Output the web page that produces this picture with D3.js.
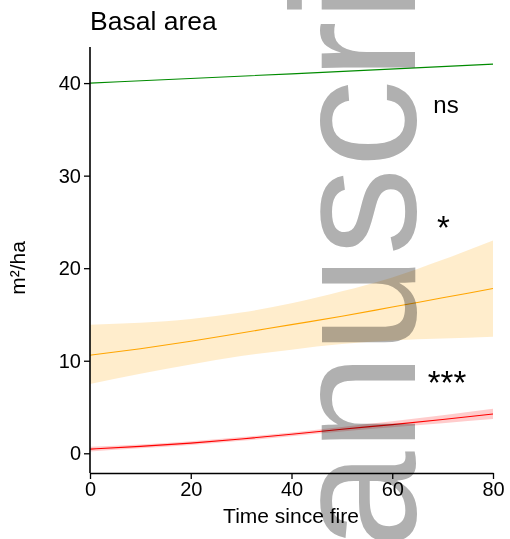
<!DOCTYPE html>
<html>
<head>
<meta charset="utf-8">
<script src="https://cdn.jsdelivr.net/npm/d3@7"></script>
<style>
  html, body { margin: 0; padding: 0; background: #fff; }
  svg { display: block; font-family: "Liberation Sans", Arial, sans-serif; }
</style>
</head>
<body>
<svg id="chart" width="510" height="539"></svg>
<script>
// ---- data ----
const title = "Basal area";
const xLabel = "Time since fire";
const yLabel = "m²/ha";
const xTicks = [0, 20, 40, 60, 80];
const yTicks = [0, 10, 20, 30, 40];

const greenTimes = [0, 40, 80];
const greenFit   = [40.0, 41.0, 42.05];

const times      = [0, 10, 20, 30, 40, 50, 60, 70, 80];
const orangeFit  = [10.6, 11.3, 12.1, 13.0, 13.9, 14.8, 15.8, 16.8, 17.8];
const orangeUp   = [13.9, 14.1, 14.5, 15.2, 16.2, 17.5, 19.0, 20.9, 23.0];
const orangeLo   = [7.5, 8.6, 9.6, 10.5, 11.2, 11.8, 12.2, 12.4, 12.6];

const redFit     = [0.45, 0.75, 1.1, 1.55, 2.05, 2.6, 3.1, 3.65, 4.25];
const redUp      = [0.7, 0.95, 1.3, 1.75, 2.25, 2.85, 3.45, 4.1, 4.8];
const redLo      = [0.2, 0.55, 0.9, 1.35, 1.85, 2.35, 2.8, 3.25, 3.7];

const sigLabels  = ["ns", "*", "***"];

// ---- layout ----
const svg = d3.select("#chart");
const x = d3.scaleLinear().domain([0, 80]).range([90, 493]);
const y = d3.scaleLinear().domain([-2.13, 43.9]).range([473, 47]);

const line = (ts, vs) => d3.line().x((d, i) => x(ts[i])).y(d => y(d)).curve(d3.curveMonotoneX)(vs);
const area = (ts, lo, hi) => d3.area().x((d, i) => x(ts[i])).y0((d, i) => y(lo[i])).y1(d => y(d)).curve(d3.curveMonotoneX)(hi);

// bands
svg.append("path").attr("d", area(times, orangeLo, orangeUp)).attr("fill", "#ffa500").attr("fill-opacity", 0.2);
svg.append("path").attr("d", area(times, redLo, redUp)).attr("fill", "#ff0000").attr("fill-opacity", 0.2);

// fitted lines
svg.append("path").attr("d", line(greenTimes, greenFit)).attr("fill", "none").attr("stroke", "#008b00").attr("stroke-width", 1.1);
svg.append("path").attr("d", line(times, orangeFit)).attr("fill", "none").attr("stroke", "#ffa500").attr("stroke-width", 1.1);
svg.append("path").attr("d", line(times, redFit)).attr("fill", "none").attr("stroke", "#ff0000").attr("stroke-width", 1.1);

// axes
const xAxis = d3.axisBottom(x).tickValues(xTicks).tickSize(6).tickSizeOuter(0).tickPadding(3);
const yAxis = d3.axisLeft(y).tickValues(yTicks).tickSize(6).tickSizeOuter(0).tickPadding(3);

const gx = svg.append("g").attr("transform", "translate(0,473)").call(xAxis);
const gy = svg.append("g").attr("transform", "translate(90,0)").call(yAxis);
[gx, gy].forEach(g => {
  g.select(".domain").attr("stroke", "#000").attr("stroke-width", 1.6);
  g.selectAll(".tick line").attr("stroke", "#000").attr("stroke-width", 1.3);
  g.selectAll(".tick text").attr("fill", "#000").style("font-size", "20px")
    .style("font-family", "'Liberation Sans', Arial, sans-serif");
});
gy.select(".domain").attr("d", "M0," + y.range()[0] + "V" + y.range()[1]);

// titles
svg.append("text").attr("x", 90).attr("y", 30).text(title)
  .style("font-size", "26.5px").attr("fill", "#000");
svg.append("text").attr("x", 291).attr("y", 523).attr("text-anchor", "middle").text(xLabel)
  .style("font-size", "21px").attr("fill", "#000");
svg.append("text").attr("transform", "translate(25,268) rotate(-90)").attr("text-anchor", "middle")
  .text(yLabel).style("font-size", "21px").attr("fill", "#000");

// significance labels
const sigPos = [[446, 113, 24], [443.5, 239, 33], [447, 394, 33]];
sigLabels.forEach((s, i) => {
  svg.append("text").attr("x", sigPos[i][0]).attr("y", sigPos[i][1]).attr("text-anchor", "middle")
    .text(s).style("font-size", sigPos[i][2] + "px").attr("fill", "#000");
});

// watermark (partly outside the page, as in the reference)
svg.append("text").attr("transform", "translate(415,696) rotate(-90)")
  .text("Manuscript").style("font-size", "176px").attr("fill", "#b0b0b0")
  .style("mix-blend-mode", "multiply");
</script>
</body>
</html>
